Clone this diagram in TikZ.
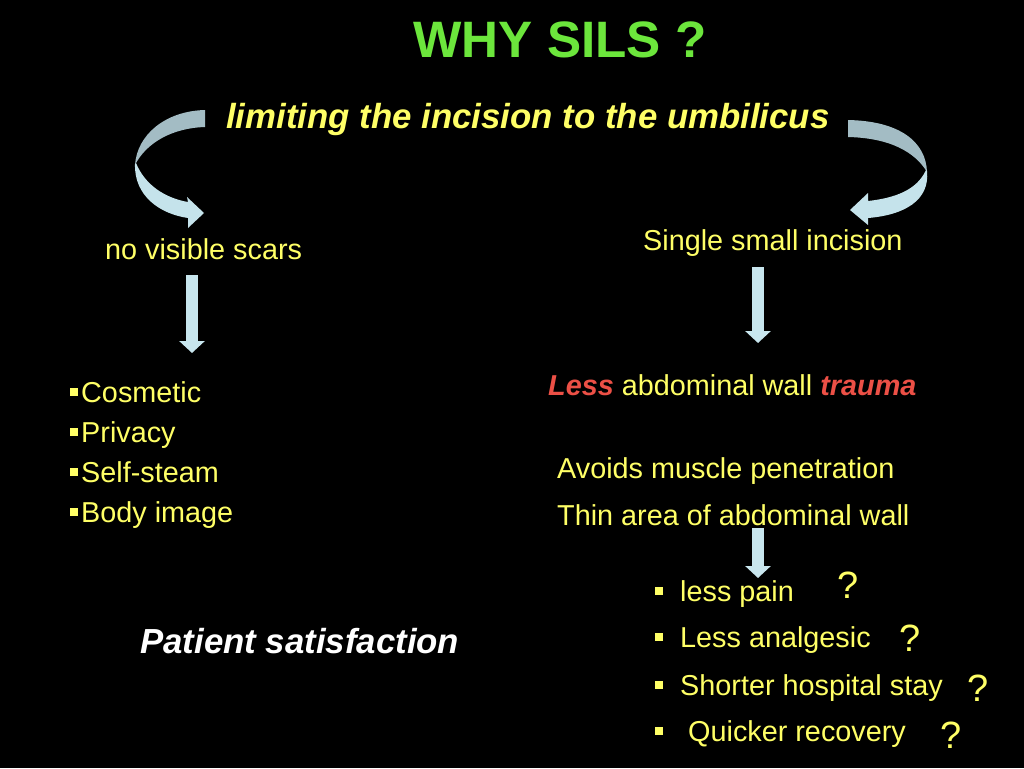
\documentclass[tikz,border=0pt]{standalone}
\usepackage{fontspec}
\setmainfont{Liberation Sans}
\usetikzlibrary{arrows.meta}
\definecolor{titlegreen}{RGB}{108,230,60}
\definecolor{softyellow}{RGB}{255,255,102}
\definecolor{lessred}{RGB}{236,80,70}
\definecolor{arrowblue}{RGB}{200,230,238}
\definecolor{ribbondark}{RGB}{163,188,196}
\definecolor{ribbonlight}{RGB}{197,227,235}
\newcommand{\sqbul}{\rule[6pt]{8pt}{8pt}}

\begin{document}
\begin{tikzpicture}[x=1pt,y=-1pt,
    body/.style={inner sep=0pt,anchor=base west,text=softyellow,font=\fontsize{28.8}{34}\selectfont},
    bold/.style={inner sep=0pt,anchor=base west,font=\fontsize{34.8}{40}\selectfont\bfseries\itshape},
    ask/.style={inner sep=0pt,anchor=base west,text=softyellow,font=\fontsize{38}{44}\selectfont},
    downarrow/.style={arrowblue,line width=12pt,-{Triangle[width=25pt,length=12pt]}}]
    \fill[black] (0,0) rectangle (1024,768);
    \useasboundingbox (0,0) rectangle (1024,768);

    \node[inner sep=0pt,anchor=base,text=titlegreen,font=\fontsize{51.2}{60}\selectfont\bfseries] (title) at (560,57) {WHY SILS ?};
    \node[bold,text=softyellow] (umbilicus) at (226,128) {limiting the incision to the umbilicus};

    % ribbon arrows from the top line
    \fill[ribbondark] (205,110) .. controls (165,111) and (137,135) .. (135,165)
        .. controls (146,143) and (172,128) .. (205,127) -- cycle;
    \fill[ribbonlight] (135,164) .. controls (134,196) and (160,214) .. (188,218)
        -- (188,228) -- (204,213) -- (187,197) -- (188,202)
        .. controls (165,198) and (145,185) .. (136,163) -- cycle;
    \fill[ribbondark] (848,120) .. controls (900,121) and (926,142) .. (927,172)
        .. controls (915,152) and (890,138) .. (848,137) -- cycle;
    \fill[ribbonlight] (927,171) .. controls (930,200) and (905,215) .. (868,218)
        -- (868,225) -- (850,210) -- (868,193) -- (868,201)
        .. controls (895,198) and (917,190) .. (926,170) -- cycle;

    % left side
    \node[body] (scars) at (105,259) {no visible scars};
    \node[body] (cosmetic) at (70,402) {\sqbul\hspace{3pt}Cosmetic};
    \node[body] (privacy) at (70,442) {\sqbul\hspace{3pt}Privacy};
    \node[body] (steam) at (70,482) {\sqbul\hspace{3pt}Self-steam};
    \node[body] (image) at (70,522) {\sqbul\hspace{3pt}Body image};
    \node[bold,text=white] (satisfaction) at (140,653) {Patient satisfaction};

    % right side
    \node[body] (single) at (643,250) {Single small incision};
    \node[body] (trauma) at (548,395) {{\bfseries\itshape\color{lessred}Less} abdominal wall {\bfseries\itshape\color{lessred}trauma}};
    \node[body] (muscle) at (557,478) {Avoids muscle penetration};
    \node[body] (thin) at (557,525) {Thin area of abdominal wall};

    \node[body] (pain) at (655,601) {\sqbul\hspace{17pt}less pain};
    \node[body] (analgesic) at (655,647) {\sqbul\hspace{17pt}Less analgesic};
    \node[body] (stay) at (655,695) {\sqbul\hspace{17pt}Shorter hospital stay};
    \node[body] (recovery) at (655,741) {\sqbul\hspace{17pt} Quicker recovery};
    \node[ask] (askpain) at (837,598) {?};
    \node[ask] (askanalgesic) at (899,651) {?};
    \node[ask] (askstay) at (967,701) {?};
    \node[ask] (askrecovery) at (940,748) {?};

    % straight arrows
    \coordinate (scarsout) at (192,275);
    \coordinate (listin) at (192,353);
    \coordinate (singleout) at (758,267);
    \coordinate (traumain) at (758,343);
    \coordinate (thinout) at (758,528);
    \coordinate (painin) at (758,578);
    \draw[downarrow] (scarsout) -- (listin);
    \draw[downarrow] (singleout) -- (traumain);
    \draw[downarrow] (thinout) -- (painin);
\end{tikzpicture}
\end{document}
